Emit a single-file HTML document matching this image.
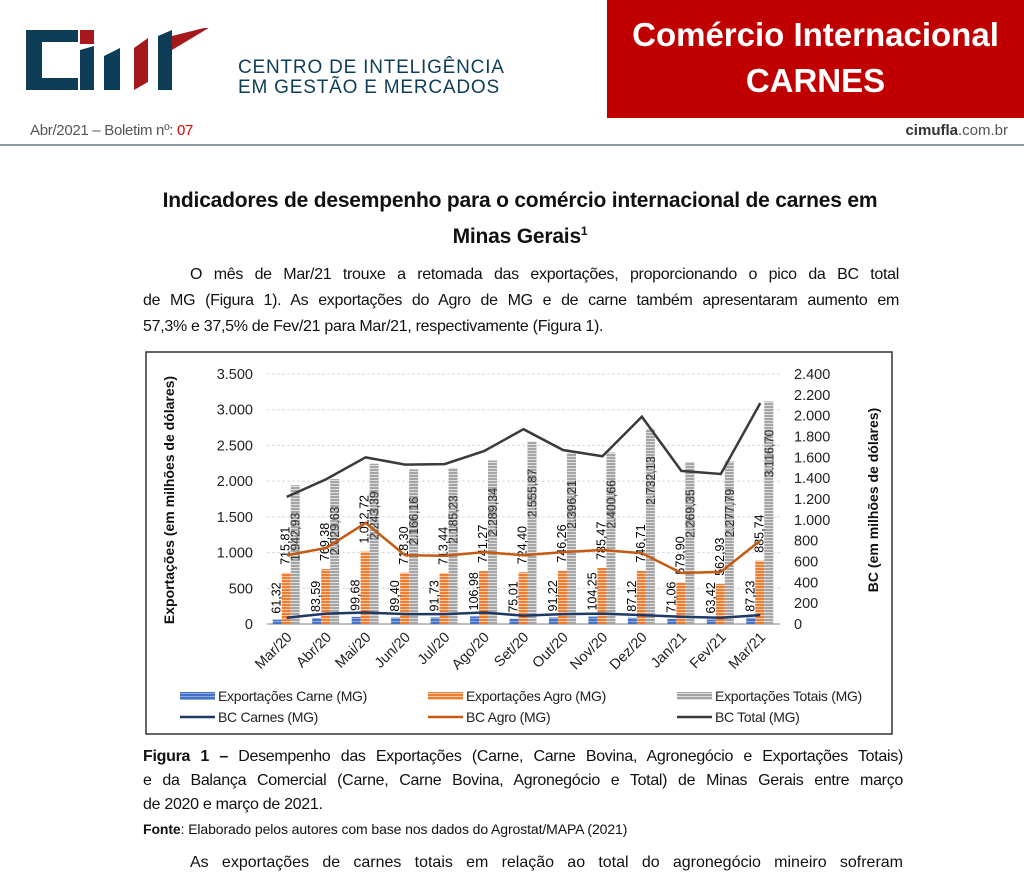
<!DOCTYPE html>
<html><head><meta charset="utf-8">
<style>
body{margin:0;width:1024px;height:876px;background:#fff;position:relative;overflow:hidden;font-family:"Liberation Sans",sans-serif;}
.abs{position:absolute;}
.txt{font-size:16px;color:#111;letter-spacing:-0.3px;}
.jl{text-align:justify;text-align-last:justify;white-space:nowrap;}
.jl.last{text-align-last:left;}
</style></head><body>
<div class="abs" style="left:24px;top:28px;width:200px;height:66px;">
<svg width="200" height="66" viewBox="0 0 200 66">
<path d="M2 2h52v12H18v36h36v12H2z" fill="#0e3d57"/>
<rect x="56" y="2" width="14" height="14" fill="#a5191d"/>
<path d="M56 22l14-4v44H56z" fill="#0e3d57"/>
<path d="M80 28l16-8v42H80z" fill="#0e3d57"/>
<path d="M110 20l14-10v44l-14 8z" fill="#a5191d"/>
<path d="M134 8l14-6v60h-14z" fill="#0e3d57"/>
<path d="M148 8l40-10-40 24z" fill="#a5191d"/>
</svg></div>
<div class="abs" style="left:238px;top:58px;font-size:19px;color:#0e3d57;line-height:20px;letter-spacing:0.8px;">CENTRO DE INTELIGÊNCIA<br>EM GESTÃO E MERCADOS</div>
<div class="abs" style="left:607px;top:0;width:417px;height:118px;background:#c00000;color:#fff;font-weight:bold;font-size:33px;text-align:center;line-height:46px;padding-top:12px;box-sizing:border-box;">Comércio Internacional<br>CARNES</div>
<div class="abs" style="left:30px;top:122px;font-size:15px;color:#555;letter-spacing:-0.3px;">Abr/2021 – Boletim nº: <span style="color:#e00000">07</span></div>
<div class="abs" style="right:16px;top:122px;font-size:15px;color:#555;"><b style="color:#333">cimufla</b>.com.br</div>
<div class="abs" style="left:0;top:144px;width:1024px;height:2px;background:#8a9aa6;"></div>
<div class="abs" style="left:100px;top:185px;width:840px;text-align:center;font-weight:bold;font-size:21px;line-height:31px;color:#111;letter-spacing:-0.2px;">Indicadores de desempenho para o comércio internacional de carnes em<br>Minas Gerais<sup style="font-size:12px">1</sup></div>
<div class="abs txt" style="left:143px;top:262px;width:756px;line-height:26px;">
<div class="jl" style="padding-left:47px">O mês de Mar/21 trouxe a retomada das exportações, proporcionando o pico da BC total</div>
<div class="jl">de MG (Figura 1). As exportações do Agro de MG e de carne também apresentaram aumento em</div>
<div class="jl last">57,3% e 37,5% de Fev/21 para Mar/21, respectivamente (Figura 1).</div>
</div>

<svg class="abs" style="left:0;top:0" width="1024" height="876" id="chart">
<defs>
<pattern id="pb" width="4" height="3" patternUnits="userSpaceOnUse"><rect width="4" height="3" fill="#4472c4"/><rect width="4" height="1" fill="#8eaadb"/></pattern>
<pattern id="po" width="4" height="3" patternUnits="userSpaceOnUse"><rect width="4" height="3" fill="#ed7d31"/><rect width="4" height="1" fill="#f8cbad"/></pattern>
<pattern id="pg" width="4" height="3" patternUnits="userSpaceOnUse"><rect width="4" height="3" fill="#a5a5a5"/><rect width="4" height="1" fill="#dedede"/></pattern>
</defs>
<rect x="146" y="352" width="746" height="382" fill="none" stroke="#333" stroke-width="1.5"/>
<g id="g"></g>
</svg>

<div class="abs txt" style="left:143px;top:745px;width:760px;line-height:24px;">
<div class="jl"><b>Figura 1 –</b> Desempenho das Exportações (Carne, Carne Bovina, Agronegócio e Exportações Totais)</div>
<div class="jl">e da Balança Comercial (Carne, Carne Bovina, Agronegócio e Total) de Minas Gerais entre março</div>
<div class="jl last">de 2020 e março de 2021.</div>
</div>
<div class="abs" style="left:143px;top:821px;font-size:14px;color:#111;letter-spacing:-0.1px;"><b>Fonte</b>: Elaborado pelos autores com base nos dados do Agrostat/MAPA (2021)</div>
<div class="abs txt" style="left:190px;top:854px;width:713px;text-align:justify;text-align-last:justify;letter-spacing:0;">As exportações de carnes totais em relação ao total do agronegócio mineiro sofreram</div>

<script>
const categories=["Mar/20","Abr/20","Mai/20","Jun/20","Jul/20","Ago/20","Set/20","Out/20","Nov/20","Dez/20","Jan/21","Fev/21","Mar/21"];
const expCarne=[61.32,83.59,99.68,89.40,91.73,106.98,75.01,91.22,104.25,87.12,71.06,63.42,87.23];
const expAgro=[715.81,769.38,1012.72,718.30,713.44,741.27,724.40,746.26,785.47,746.71,579.90,562.93,885.74];
const expTotal=[1942.93,2029.63,2243.39,2166.16,2185.23,2289.34,2555.87,2396.21,2400.66,2732.13,2269.35,2277.79,3116.70];
const bcCarnes=[60,100,110,95,95,110,80,95,100,85,70,60,85];
const bcAgro=[660,730,970,660,655,690,660,690,710,680,490,500,800];
const bcTotal=[1220,1390,1600,1530,1535,1660,1870,1670,1610,1990,1470,1440,2120];
const leftTicks=[0,500,1000,1500,2000,2500,3000,3500];
const rightTicks=[0,200,400,600,800,1000,1200,1400,1600,1800,2000,2200,2400];
const NS="http://www.w3.org/2000/svg";
const g=document.getElementById('g');
const x0=267,x1=780,yb=624,yt=374;
const step=(x1-x0)/categories.length;
function xc(i){return x0+step*(i+0.5);}
function yL(v){return yb-(v/3500)*(yb-yt);}
function yR(v){return yb-(v/2400)*(yb-yt);}
function fmt(v){return v.toFixed(2).replace('.',',').replace(/\B(?=(\d{3})+(?!\d))/g,'.');}
function fmtT(v){return String(v).replace(/\B(?=(\d{3})+(?!\d))/g,'.');}
function mk(t,a,txt){const e=document.createElementNS(NS,t);for(const k in a)e.setAttribute(k,a[k]);if(txt!==undefined)e.textContent=txt;g.appendChild(e);return e;}
leftTicks.forEach(v=>{
 if(v>0){const l=mk('line',{x1:x0,x2:x1,y1:yL(v),y2:yL(v),stroke:'#d9d9d9','stroke-dasharray':'3,2'});
 
 }
 const t=mk('text',{x:253,y:yL(v)+5,'text-anchor':'end','font-size':14.5,fill:'#222'},fmtT(v));
 
 
});
rightTicks.forEach(v=>{
 const t=mk('text',{x:794,y:yR(v)+5,'font-size':14.5,fill:'#222'},fmtT(v));
 
 
});
const ax=mk('line',{x1:x0,x2:x1,y1:yb,y2:yb,stroke:'#bfbfbf','stroke-width':2});


const lt=mk('text',{transform:'translate(174,500) rotate(-90)','text-anchor':'middle','font-size':14,'font-weight':'bold',fill:'#111'},'Exportações (em milhões de dólares)');


const rt=mk('text',{transform:'translate(878,500) rotate(-90)','text-anchor':'middle','font-size':14,'font-weight':'bold',fill:'#111'},'BC (em milhões de dólares)');


const bw=9;
categories.forEach((c,i)=>{
 const cx=xc(i);
 const b1=mk('rect',{x:cx-14,y:yL(expCarne[i]),width:bw,height:yb-yL(expCarne[i]),fill:'url(#pb)'});
 
 
 const b2=mk('rect',{x:cx-5,y:yL(expAgro[i]),width:bw,height:yb-yL(expAgro[i]),fill:'url(#po)'});
 
 
 const b3=mk('rect',{x:cx+4,y:yL(expTotal[i]),width:bw,height:yb-yL(expTotal[i]),fill:'url(#pg)'});
 
 
 const l1=mk('text',{transform:`translate(${cx-6},${yL(expCarne[i])-6}) rotate(-90)`,'font-size':12.5,fill:'#000'},fmt(expCarne[i]));
 
 
 const l2=mk('text',{transform:`translate(${cx+3},${yL(expAgro[i])-8}) rotate(-90)`,'font-size':12.5,fill:'#000'},fmt(expAgro[i]));
 
 
 const l3=mk('text',{transform:`translate(${cx+13},${yL(expTotal[i])+76}) rotate(-90)`,'font-size':12.5,fill:'#333'},fmt(expTotal[i]));
 
 
 const xt=mk('text',{transform:`translate(${cx+6},${yb+14}) rotate(-45)`,'text-anchor':'end','font-size':14.5,fill:'#222'},c);
 
 
});
function line(arr,col,name){
 const p=mk('polyline',{points:arr.map((v,i)=>xc(i)+','+yR(v)).join(' '),fill:'none',stroke:col,'stroke-width':2.5});
 
 
}
line(bcCarnes,'#1f3864','line-bc-carnes');
line(bcAgro,'#c55a11','line-bc-agro');
line(bcTotal,'#3a3a3a','line-bc-total');
const leg=[["Exportações Carne (MG)",'url(#pb)',180,697,'r'],["Exportações Agro (MG)",'url(#po)',428,697,'r'],["Exportações Totais (MG)",'url(#pg)',677,697,'r'],["BC Carnes (MG)",'#1f3864',180,718,'l'],["BC Agro (MG)",'#c55a11',428,718,'l'],["BC Total (MG)",'#3a3a3a',677,718,'l']];
leg.forEach(d=>{
 if(d[4]=='r'){mk('rect',{x:d[2],y:d[3]-5,width:35,height:8,fill:d[1]});}
 else{mk('line',{x1:d[2],x2:d[2]+35,y1:d[3]-1,y2:d[3]-1,stroke:d[1],'stroke-width':2.5});}
 const t=mk('text',{x:d[2]+38,y:d[3]+4,'font-size':14,fill:'#222','letter-spacing':'-0.3'},d[0]);
 
 
});
</script>
</body></html>
